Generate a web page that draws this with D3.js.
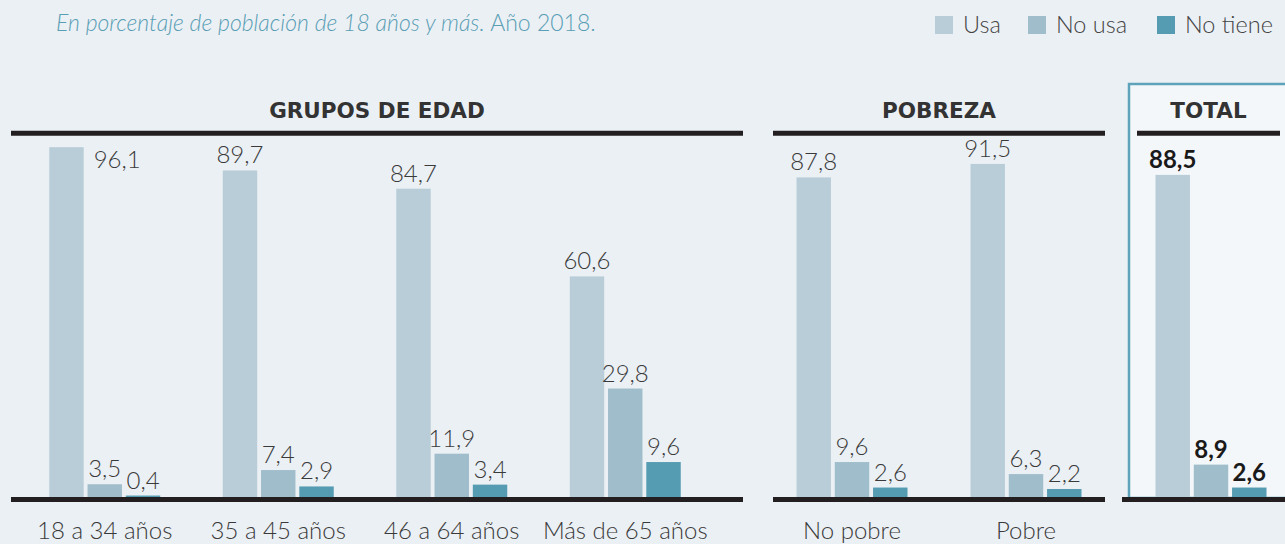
<!DOCTYPE html>
<html lang="es">
<head>
<meta charset="UTF-8">
<title>Uso por grupos</title>
<script src="https://d3js.org/d3.v7.min.js"></script>
<style>
  body { margin: 0; background: #ebf0f5; }
  svg { display: block; }
</style>
</head>
<body>
<script>
const width = 1285
const height = 544

const series = ["Usa", "No usa", "No tiene"]
const colors = ["#b8cdd8", "#a0bdcb", "#559bb1"]

const edadCats = ["18 a 34 años", "35 a 45 años", "46 a 64 años", "Más de 65 años"]
const edadUsa = [96.1, 89.7, 84.7, 60.6]
const edadNoUsa = [3.5, 7.4, 11.9, 29.8]
const edadNoTiene = [0.4, 2.9, 3.4, 9.6]

const pobrezaCats = ["No pobre", "Pobre"]
const pobrezaUsa = [87.8, 91.5]
const pobrezaNoUsa = [9.6, 6.3]
const pobrezaNoTiene = [2.6, 2.2]

const totalCats = [""]
const totalUsa = [88.5]
const totalNoUsa = [8.9]
const totalNoTiene = [2.6]

const fmt = v => String(v.toFixed(1)).replace(".", ",")

let svg = d3.select("body").append("svg")
    .attr("width", width).attr("height", height)

svg.append("rect").attr("width", width).attr("height", height).attr("fill", "#ebf0f5")

// subtitle
let sub = svg.append("text").attr("x", 56).attr("y", 31)
    .attr("font-family", "Lato").attr("font-size", 23).attr("font-weight", 300)
    .attr("fill", "#5a9eb4")
sub.append("tspan").attr("font-style", "italic").text("En porcentaje de población de 18 años y más.")
sub.append("tspan").text(" Año 2018.")

// legend
const legendX = [935, 1028, 1157]
series.forEach((s, i) => {
    svg.append("rect").attr("x", legendX[i]).attr("y", 16).attr("width", 18).attr("height", 18)
        .attr("fill", colors[i])
    svg.append("text").attr("x", legendX[i] + 28).attr("y", 33)
        .attr("font-family", "Lato").attr("font-size", 23.5).attr("font-weight", 300)
        .attr("fill", "#444")
        .text(s)
})

// total highlight box
svg.append("rect").attr("x", 1129).attr("y", 84).attr("width", 200).attr("height", 414)
    .attr("fill", "#f4f7fa").attr("stroke", "#5ea3ba").attr("stroke-width", 2.5)

const y = d3.scaleLinear().domain([0, 100]).range([497, 133])

const panels = [
    {title: "GRUPOS DE EDAD", cats: edadCats, vals: [edadUsa, edadNoUsa, edadNoTiene],
     range: [18, 712], head: [11, 743], base: [11, 743], bold: false},
    {title: "POBREZA", cats: pobrezaCats, vals: [pobrezaUsa, pobrezaNoUsa, pobrezaNoTiene],
     range: [765, 1113], head: [773, 1105], base: [773, 1105], bold: false},
    {title: "TOTAL", cats: totalCats, vals: [totalUsa, totalNoUsa, totalNoTiene],
     range: [1124, 1298], head: [1137, 1280], base: [1122, 1285], bold: true}
]

const inner = d3.scaleBand().domain(series).range([-55.5, 55.5]).paddingInner(0.1)

panels.forEach(p => {
    let g = svg.append("g")
    const x = d3.scaleBand().domain(p.cats).range(p.range)

    g.append("text").attr("x", (p.head[0] + p.head[1]) / 2).attr("y", 118)
        .attr("text-anchor", "middle").attr("font-family", "DejaVu Sans")
        .attr("font-weight", "bold").attr("font-size", 21.5).attr("fill", "#333")
        .text(p.title)
    g.append("line").attr("x1", p.head[0]).attr("x2", p.head[1])
        .attr("y1", 133.3).attr("y2", 133.3).attr("stroke", "#231f20").attr("stroke-width", 5)

    p.cats.forEach((c, ci) => {
        const cx = x(c) + x.bandwidth() / 2
        series.forEach((s, si) => {
            const v = p.vals[si][ci]
            const bx = cx + inner(s)
            g.append("rect").attr("x", bx).attr("y", y(v))
                .attr("width", inner.bandwidth()).attr("height", y(0) - y(v))
                .attr("fill", colors[si])
            let t = g.append("text")
                .attr("font-family", "Lato").attr("font-size", 24)
                .attr("font-weight", p.bold ? "bold" : 300)
                .attr("fill", p.bold ? "#1a1a1a" : "#3a3a3a")
                .text(fmt(v))
            if (y(v) - 24 < 137) {
                t.attr("x", bx + inner.bandwidth() + 10).attr("y", y(v) + 21)
            } else {
                t.attr("x", bx + inner.bandwidth() / 2).attr("y", y(v) - 7)
                    .attr("text-anchor", "middle")
            }
        })
        g.append("text").attr("x", cx).attr("y", 539).attr("text-anchor", "middle")
            .attr("font-family", "Lato").attr("font-size", 24).attr("font-weight", 300)
            .attr("fill", "#3a3a3a")
            .text(c)
    })

    g.append("line").attr("x1", p.base[0]).attr("x2", p.base[1])
        .attr("y1", 499.5).attr("y2", 499.5).attr("stroke", "#231f20").attr("stroke-width", 5)
})
</script>
</body>
</html>
